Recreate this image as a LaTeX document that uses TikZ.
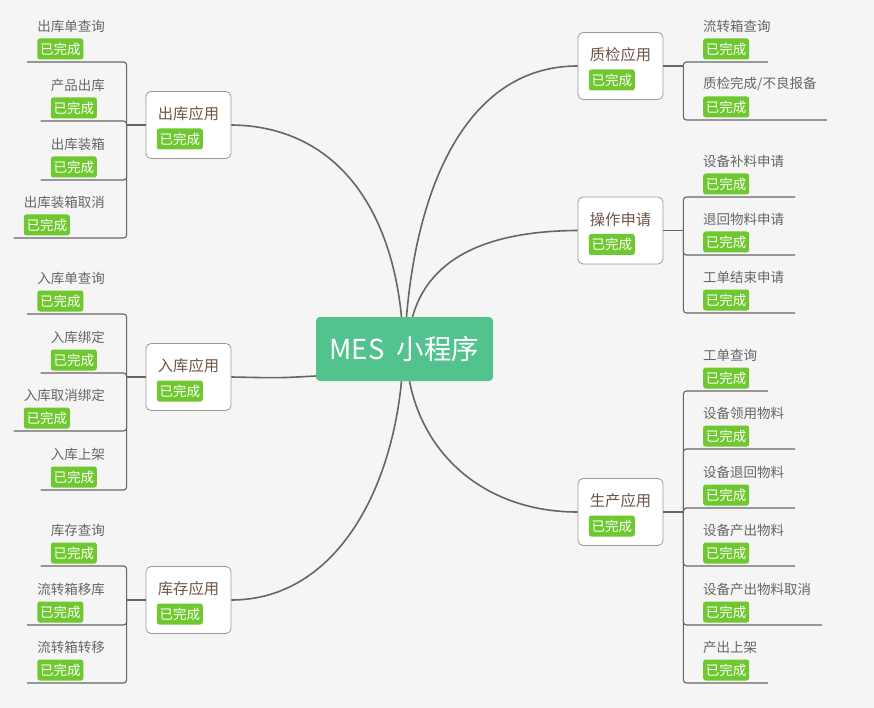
\documentclass[tikz,border=0pt]{standalone}
\usepackage{fontspec}
\setmainfont{Noto Sans CJK SC}
\usepackage{xcolor}
\usetikzlibrary{positioning, calc}
\definecolor{bgc}{HTML}{F5F5F5}
\definecolor{mesc}{HTML}{52C28E}
\definecolor{tagc}{HTML}{6FC830}
\definecolor{appc}{HTML}{6E5546}
\definecolor{leafc}{HTML}{666666}
\definecolor{linec}{HTML}{666666}
\definecolor{boxc}{HTML}{9A9A9A}

\begin{document}
\begin{tikzpicture}[x=1pt, y=-1pt,
    mes/.style={fill=mesc, rounded corners=4pt, minimum width=177pt, minimum height=64pt, text=white, font=\fontsize{27.5}{30}\selectfont},
    app/.style={draw=boxc, fill=white, rounded corners=5pt, minimum width=85pt, minimum height=67pt, line width=0.8pt},
    apptext/.style={text=appc, inner sep=0pt, font=\fontsize{15.3}{18}\selectfont},
    leaf/.style={text=leafc, inner sep=0pt, font=\fontsize{13.5}{16}\selectfont},
    tag/.style={fill=tagc, text=white, rounded corners=2.5pt, minimum width=46pt, minimum height=21pt, inner sep=0pt, font=\fontsize{13.5}{16}\selectfont},
    link/.style={draw=linec, line width=1.6pt},
    bracket/.style={draw=linec, line width=1.1pt, rounded corners=3pt}]

      \useasboundingbox[fill=bgc] (0,0) rectangle (874,708);

      \node[mes] (mes) at (404.5,349) {MES~~小程序};

      \node[app] (outapp) at (188.5,125) {};
      \node[apptext] (outt) at ($(outapp)+(0,-11)$) {出库应用};
      \node[tag, anchor=west] (outtag) at ($(outapp.west)+(11,14)$) {已完成};

      \node[app] (inapp) at (188.5,377) {};
      \node[apptext] (int) at ($(inapp)+(0,-11)$) {入库应用};
      \node[tag, anchor=west] (intag) at ($(inapp.west)+(11,14)$) {已完成};

      \node[app] (stockapp) at (188.5,600) {};
      \node[apptext] (stockt) at ($(stockapp)+(0,-11)$) {库存应用};
      \node[tag, anchor=west] (stocktag) at ($(stockapp.west)+(11,14)$) {已完成};

      \node[app] (qcapp) at (620.5,66) {};
      \node[apptext] (qct) at ($(qcapp)+(0,-11)$) {质检应用};
      \node[tag, anchor=west] (qctag) at ($(qcapp.west)+(11,14)$) {已完成};

      \node[app] (opapp) at (620.5,230.5) {};
      \node[apptext] (opt) at ($(opapp)+(0,-11)$) {操作申请};
      \node[tag, anchor=west] (optag) at ($(opapp.west)+(11,14)$) {已完成};

      \node[app] (prodapp) at (620.5,512) {};
      \node[apptext] (prodt) at ($(prodapp)+(0,-11)$) {生产应用};
      \node[tag, anchor=west] (prodtag) at ($(prodapp.west)+(11,14)$) {已完成};

      \draw[link] ([xshift=-3pt]mes.north) .. controls (390,200) and (330,126) .. (outapp.east);
      \draw[link] ([yshift=-27pt]mes.west) .. controls (280,378) .. (inapp.east);
      \draw[link] ([xshift=-3pt]mes.south) .. controls (390,500) and (330,600) .. (stockapp.east);
      \draw[link] ([xshift=2pt]mes.north) .. controls (418,180) and (470,66) .. (qcapp.west);
      \draw[link] ([xshift=8pt]mes.north) .. controls (428,262) and (480,231) .. (opapp.west);
      \draw[link] ([xshift=5pt]mes.south) .. controls (425,460) and (490,512) .. (prodapp.west);

      \draw[link] (outapp.west) -- ++(-19,0) coordinate (outb);
      \draw[link] (inapp.west) -- ++(-19,0) coordinate (inb);
      \draw[link] (stockapp.west) -- ++(-19,0) coordinate (stockb);
      \draw[link] (qcapp.east) -- ++(20,0) coordinate (qcb);
      \draw[link] (opapp.east) -- ++(20,0) coordinate (opb);
      \draw[link] (prodapp.east) -- ++(20,0) coordinate (prodb);

      \node[leaf, anchor=east] (o1) at (105,26) {出库单查询};
      \node[tag, anchor=west] (o1t) at ($(o1.west)+(0,23)$) {已完成};
      \draw[bracket] (outb) |- ($(o1t.west)+(-10,13)$);
      \node[leaf, anchor=east] (o2) at (105,85) {产品出库};
      \node[tag, anchor=west] (o2t) at ($(o2.west)+(0,23)$) {已完成};
      \draw[bracket] (outb) |- ($(o2t.west)+(-10,13)$);
      \node[leaf, anchor=east] (o3) at (105,144) {出库装箱};
      \node[tag, anchor=west] (o3t) at ($(o3.west)+(0,23)$) {已完成};
      \draw[bracket] (outb) |- ($(o3t.west)+(-10,13)$);
      \node[leaf, anchor=east] (o4) at (105,202) {出库装箱取消};
      \node[tag, anchor=west] (o4t) at ($(o4.west)+(0,23)$) {已完成};
      \draw[bracket] (outb) |- ($(o4t.west)+(-10,13)$);

      \node[leaf, anchor=east] (i1) at (105,278) {入库单查询};
      \node[tag, anchor=west] (i1t) at ($(i1.west)+(0,23)$) {已完成};
      \draw[bracket] (inb) |- ($(i1t.west)+(-10,13)$);
      \node[leaf, anchor=east] (i2) at (105,337) {入库绑定};
      \node[tag, anchor=west] (i2t) at ($(i2.west)+(0,23)$) {已完成};
      \draw[bracket] (inb) |- ($(i2t.west)+(-10,13)$);
      \node[leaf, anchor=east] (i3) at (105,395) {入库取消绑定};
      \node[tag, anchor=west] (i3t) at ($(i3.west)+(0,23)$) {已完成};
      \draw[bracket] (inb) |- ($(i3t.west)+(-10,13)$);
      \node[leaf, anchor=east] (i4) at (105,454) {入库上架};
      \node[tag, anchor=west] (i4t) at ($(i4.west)+(0,23)$) {已完成};
      \draw[bracket] (inb) |- ($(i4t.west)+(-10,13)$);

      \node[leaf, anchor=east] (s1) at (105,530) {库存查询};
      \node[tag, anchor=west] (s1t) at ($(s1.west)+(0,23)$) {已完成};
      \draw[bracket] (stockb) |- ($(s1t.west)+(-10,13)$);
      \node[leaf, anchor=east] (s2) at (105,589) {流转箱移库};
      \node[tag, anchor=west] (s2t) at ($(s2.west)+(0,23)$) {已完成};
      \draw[bracket] (stockb) |- ($(s2t.west)+(-10,13)$);
      \node[leaf, anchor=east] (s3) at (105,647) {流转箱转移};
      \node[tag, anchor=west] (s3t) at ($(s3.west)+(0,23)$) {已完成};
      \draw[bracket] (stockb) |- ($(s3t.west)+(-10,13)$);

      \node[leaf, anchor=west] (q1) at (703,26) {流转箱查询};
      \node[tag, anchor=west] (q1t) at ($(q1.west)+(0,23)$) {已完成};
      \draw[bracket] (qcb) |- ($(q1t.west)+(65,13)$);
      \node[leaf, anchor=west] (q2) at (703,84) {质检完成/不良报备};
      \node[tag, anchor=west] (q2t) at ($(q2.west)+(0,23)$) {已完成};
      \draw[bracket] (qcb) |- ($(q2t.west)+(124,13)$);

      \node[leaf, anchor=west] (a1) at (703,161) {设备补料申请};
      \node[tag, anchor=west] (a1t) at ($(a1.west)+(0,23)$) {已完成};
      \draw[bracket] (opb) |- ($(a1t.west)+(92,13)$);
      \node[leaf, anchor=west] (a2) at (703,219) {退回物料申请};
      \node[tag, anchor=west] (a2t) at ($(a2.west)+(0,23)$) {已完成};
      \draw[bracket] (opb) |- ($(a2t.west)+(92,13)$);
      \node[leaf, anchor=west] (a3) at (703,277) {工单结束申请};
      \node[tag, anchor=west] (a3t) at ($(a3.west)+(0,23)$) {已完成};
      \draw[bracket] (opb) |- ($(a3t.west)+(92,13)$);

      \node[leaf, anchor=west] (p1) at (703,355) {工单查询};
      \node[tag, anchor=west] (p1t) at ($(p1.west)+(0,23)$) {已完成};
      \draw[bracket] (prodb) |- ($(p1t.west)+(65,13)$);
      \node[leaf, anchor=west] (p2) at (703,413) {设备领用物料};
      \node[tag, anchor=west] (p2t) at ($(p2.west)+(0,23)$) {已完成};
      \draw[bracket] (prodb) |- ($(p2t.west)+(92,13)$);
      \node[leaf, anchor=west] (p3) at (703,472) {设备退回物料};
      \node[tag, anchor=west] (p3t) at ($(p3.west)+(0,23)$) {已完成};
      \draw[bracket] (prodb) |- ($(p3t.west)+(92,13)$);
      \node[leaf, anchor=west] (p4) at (703,530) {设备产出物料};
      \node[tag, anchor=west] (p4t) at ($(p4.west)+(0,23)$) {已完成};
      \draw[bracket] (prodb) |- ($(p4t.west)+(92,13)$);
      \node[leaf, anchor=west] (p5) at (703,589) {设备产出物料取消};
      \node[tag, anchor=west] (p5t) at ($(p5.west)+(0,23)$) {已完成};
      \draw[bracket] (prodb) |- ($(p5t.west)+(119,13)$);
      \node[leaf, anchor=west] (p6) at (703,647) {产出上架};
      \node[tag, anchor=west] (p6t) at ($(p6.west)+(0,23)$) {已完成};
      \draw[bracket] (prodb) |- ($(p6t.west)+(65,13)$);

    \end{tikzpicture}
\end{document}
